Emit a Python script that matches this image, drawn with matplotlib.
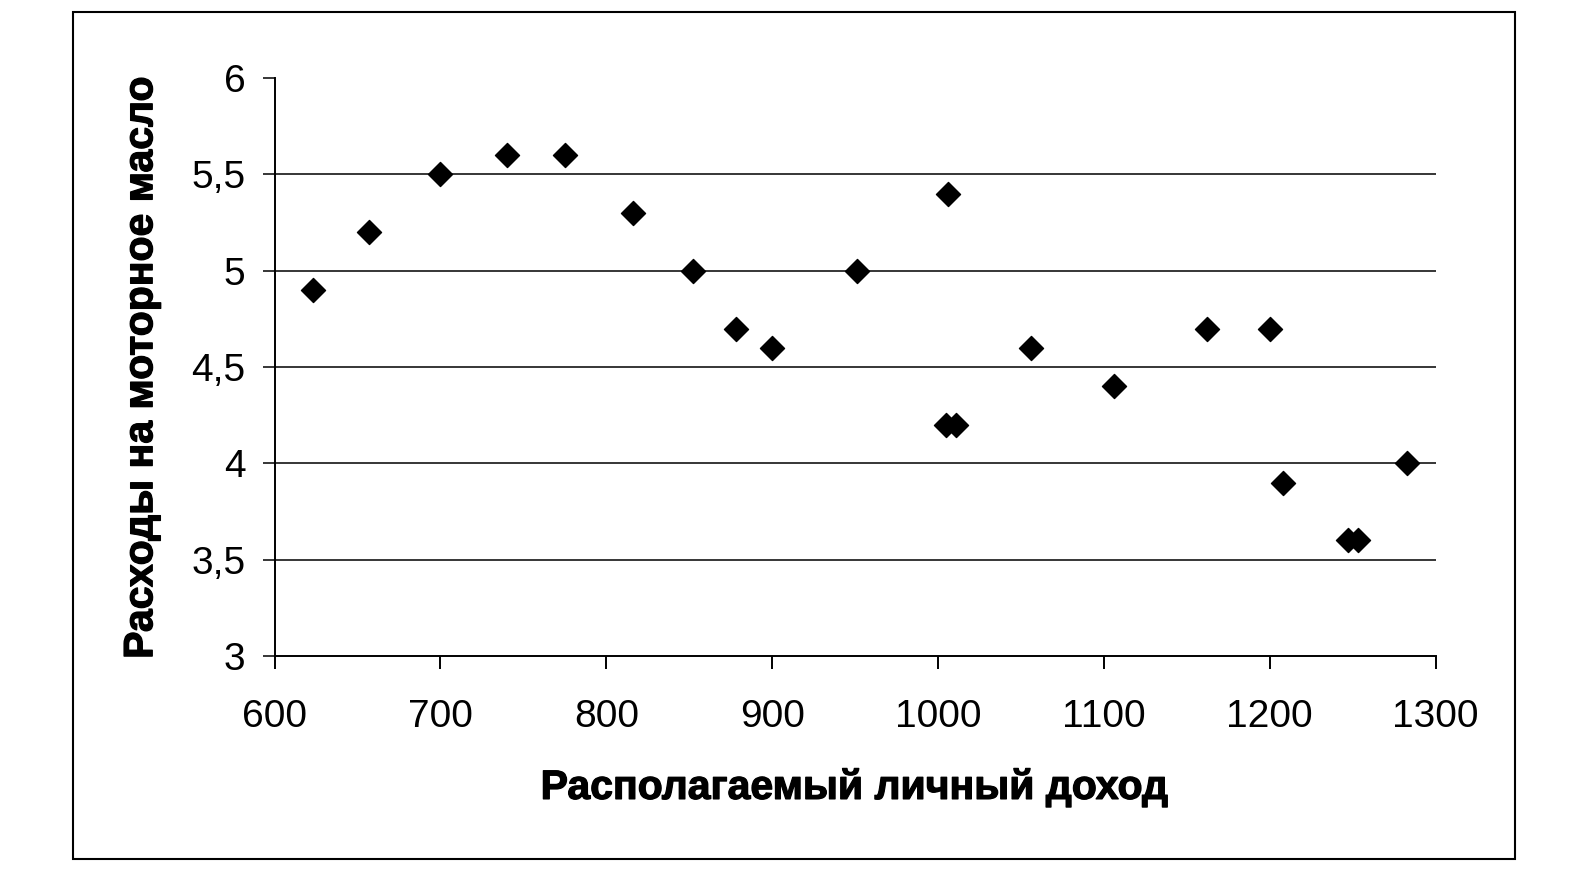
import matplotlib
matplotlib.use('Agg')
from matplotlib import pyplot as plt
from matplotlib.patches import Rectangle
from matplotlib import patheffects

# располагаемый личный доход и расходы на моторное масло
income = [623, 657, 700, 740, 775, 816, 852, 878, 900, 951, 1006,
          1005, 1011, 1056, 1106, 1162, 1200, 1208, 1247, 1253, 1283]
oil = [4.9, 5.2, 5.5, 5.6, 5.6, 5.3, 5.0, 4.7, 4.6, 5.0, 5.4,
       4.2, 4.2, 4.6, 4.4, 4.7, 4.7, 3.9, 3.6, 3.6, 4.0]

x_ticks = [600, 700, 800, 900, 1000, 1100, 1200, 1300]
y_ticks = [3, 3.5, 4, 4.5, 5, 5.5, 6]
y_tick_labels = ['3', '3,5', '4', '4,5', '5', '5,5', '6']

plt.rcParams['font.family'] = ['Liberation Sans', 'DejaVu Sans']

fig = plt.figure(figsize=(15.87, 8.91), dpi=100)
ax = fig.add_axes([0.173, 0.2637, 0.7316, 0.6487])

# рамка вокруг всей диаграммы
fig.add_artist(Rectangle((0.046, 0.036), 0.9086, 0.9506, transform=fig.transFigure,
                         fill=False, edgecolor='black', linewidth=1.5))

ax.scatter(income, oil, marker='D', s=150, color='black', zorder=3)

ax.set_xlim(600, 1300)
ax.set_ylim(3, 6)
ax.set_xticks(x_ticks)
ax.set_yticks(y_ticks)
ax.set_yticklabels(y_tick_labels)

for yv in y_ticks[1:-1]:
    ax.axhline(yv, color='black', linewidth=1.1, zorder=1)

ax.spines['top'].set_visible(False)
ax.spines['right'].set_visible(False)
ax.spines['left'].set_linewidth(1.4)
ax.spines['bottom'].set_linewidth(1.4)

ax.tick_params(axis='x', direction='out', length=9, width=1.4, pad=22, labelsize=28)
ax.tick_params(axis='y', direction='out', length=9, width=1.1, pad=12, labelsize=28)

bold = [patheffects.withStroke(linewidth=0.9, foreground='black')]
fig.text(0.5386, 0.116, 'Располагаемый личный доход', ha='center', va='center',
         fontsize=29.5, fontweight='bold', path_effects=bold)
fig.text(0.089, 0.588, 'Расходы на моторное масло', ha='center', va='center',
         rotation=90, fontsize=29.5, fontweight='bold', path_effects=bold)

fig.savefig('out.png', dpi=100)
